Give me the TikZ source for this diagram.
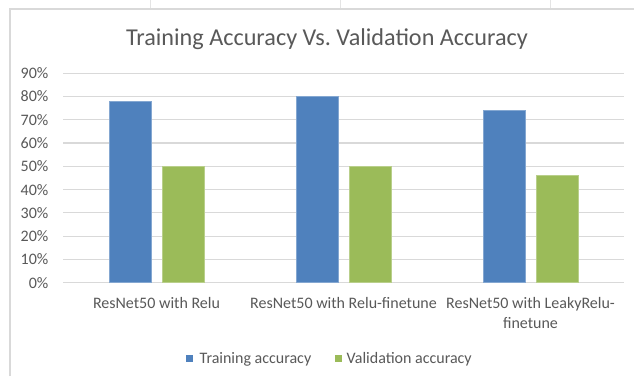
\documentclass[tikz,border=0pt]{standalone}
\usepackage{fontspec}
\setmainfont{Carlito}
\frenchspacing
\definecolor{txtgray}{HTML}{595959}
\definecolor{gridgray}{HTML}{D9D9D9}
\definecolor{framegray}{HTML}{D9D9D9}
\definecolor{barblue}{HTML}{4F81BD}
\definecolor{bargreen}{HTML}{9BBB59}
\tikzset{
  axislabel/.style={font=\fontsize{16}{18}\selectfont, text=txtgray, inner sep=0pt},
  catlabel/.style={font=\fontsize{16}{18}\selectfont, text=txtgray, inner sep=0pt, anchor=base},
  gridline/.style={draw=gridgray, line width=1.2pt},
  trainbar/.style={fill=barblue, draw=barblue!70!white, line width=0.6pt},
  valbar/.style={fill=bargreen, draw=bargreen!70!white, line width=0.6pt},
  legendtext/.style={font=\fontsize{16}{18}\selectfont, text=txtgray, inner sep=0pt, anchor=base west},
}
\begin{document}
\begin{tikzpicture}[x=1pt, y=-1pt]
\useasboundingbox (0,0) rectangle (634,376);
\fill[white] (0,0) rectangle (634,376);
% sheet cell lines above the chart
\draw[gridgray!70, line width=0.6pt] (150,0) -- (150,9);
\draw[gridgray!70, line width=0.6pt] (340.7,0) -- (340.7,9);
\draw[gridgray!70, line width=0.6pt] (550.7,0) -- (550.7,9);
% chart frame
\draw[framegray, line width=1.2pt] (10,376) -- (10,9) -- (634,9);
% title
\node[font=\fontsize{24.2}{28}\selectfont, text=txtgray, inner sep=0pt, anchor=base] (title) at (327,45.5) {Training Accuracy Vs.\ Validation Accuracy};
% gridlines and y labels
\foreach \v [count=\i from 0] in {0,10,20,30,40,50,60,70,80,90} {
  \pgfmathsetmacro{\yy}{282.7-23.27*\i}
  \draw[gridline] (63,\yy) -- (624,\yy);
  \node[axislabel, anchor=east] (y\i) at (48.5,\yy) {\v\%};
}
% bars: 0% at 282.7, 1% = 2.327
\draw[trainbar] (109.3,282.7) rectangle (151.7,{282.7-78*2.327});
\draw[valbar]   (162.3,282.7) rectangle (204.3,{282.7-50*2.327});
\draw[trainbar] (296.3,282.7) rectangle (338.5,{282.7-80*2.327});
\draw[valbar]   (349.5,282.7) rectangle (391.3,{282.7-50*2.327});
\draw[trainbar] (483.5,282.7) rectangle (525.5,{282.7-74*2.327});
\draw[valbar]   (536.5,282.7) rectangle (578.7,{282.7-46*2.327});
% category labels
\node[catlabel] (c1) at (156.5,308.3) {ResNet50 with Relu};
\node[catlabel] (c2) at (343.5,308.3) {ResNet50 with Relu-finetune};
\node[catlabel] (c3) at (530.5,308.3) {ResNet50 with LeakyRelu-};
\node[catlabel] (c3b) at (530.5,328.3) {finetune};
% legend
\fill[barblue] (186,355) rectangle (193,362);
\node[legendtext] (l1) at (199.5,363.3) {Training accuracy};
\fill[bargreen] (335,355) rectangle (342,362);
\node[legendtext] (l2) at (346.5,363.3) {Validation accuracy};
\end{tikzpicture}
\end{document}
